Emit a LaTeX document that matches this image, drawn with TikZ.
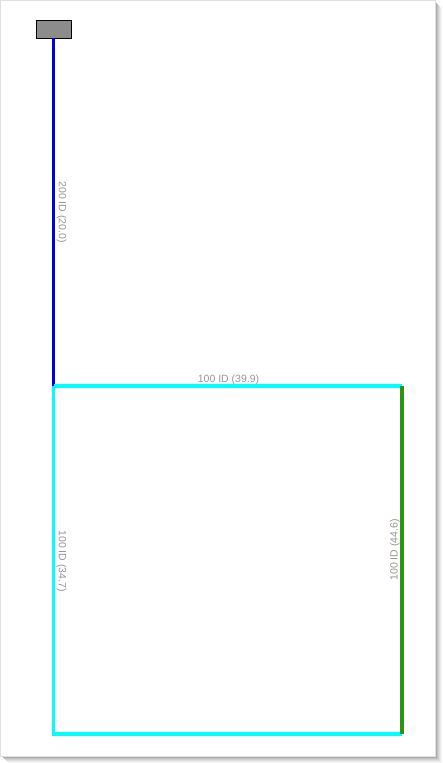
\documentclass[tikz,border=0pt]{standalone}
\usepackage{fontspec}
\setmainfont{Liberation Sans}
\definecolor{pcyan}{RGB}{0,255,255}
\definecolor{pblue}{RGB}{0,0,225}
\definecolor{pgreen}{RGB}{40,150,20}
\definecolor{ptext}{RGB}{150,150,150}
\begin{document}
\begin{tikzpicture}[x=1pt,y=-1pt,
  lbl/.style={text=ptext, font=\fontsize{10.5}{11}\selectfont, inner sep=0pt},
  pipe/.style={line width=3.2pt}]
\useasboundingbox (0,0) rectangle (443,763);
% shadow
\foreach \i/\c in {7/4,6/8,5/13,4/18,3/25,2/32,1/40}{
  \fill[black!\c] (\i+1,\i+1) rectangle (435+\i,756+\i);
}
\fill[white] (0,0) rectangle (435,756);
\draw[black!12, line width=0.6pt] (0.3,0.3) rectangle (435,756);
% gray box
\node[draw=black, fill=black!45, line width=0.8pt, minimum width=35pt, minimum height=18pt, inner sep=0pt] (src) at (53.5,29) {};
\coordinate (a) at (53.5,386);
\coordinate (b) at (402,386);
\coordinate (c) at (402,734);
\coordinate (d) at (53.5,734);
\draw[pipe, pblue] (src.south) -- (a);
\draw[pipe, pcyan] (a) -- (b);
\draw[pipe, pcyan] (a) -- (d) -- (c);
\draw[line width=4pt, pgreen] (b) -- (c);
% labels
\node[lbl, rotate=-90] at (61.5,212) {200 ID (20.0)};
\node[lbl] at (228.5,380) {100 ID (39.9)};
\node[lbl, rotate=-90] at (61.5,561) {100 ID (34.7)};
\node[lbl, rotate=90] at (395,550) {100 ID (44.6)};
\end{tikzpicture}
\end{document}
